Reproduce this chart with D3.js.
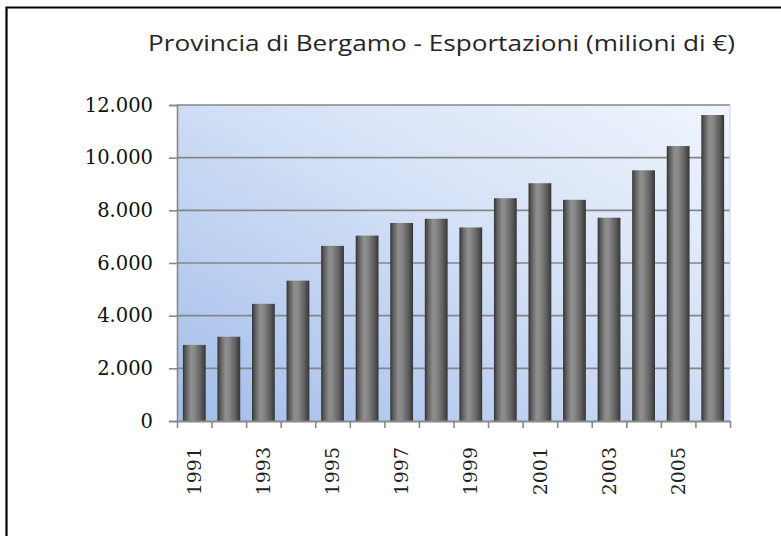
<!DOCTYPE html>
<html>
<head>
<meta charset="utf-8">
<script src="https://cdn.jsdelivr.net/npm/d3@7"></script>
<style>
  body { margin: 0; background: #fff; }
  svg { display: block; }
</style>
</head>
<body>
<div id="chart"></div>
<script>
// esportazioni provincia di Bergamo, milioni di euro
const years = ["1991","1992","1993","1994","1995","1996","1997","1998","1999","2000","2001","2002","2003","2004","2005","2006"];
const exportValues = [2890, 3200, 4450, 5330, 6650, 7040, 7520, 7680, 7350, 8460, 9030, 8400, 7720, 9520, 10440, 11620];
const yTicks = [0, 2000, 4000, 6000, 8000, 10000, 12000];
const xLabels = ["1991","1993","1995","1997","1999","2001","2003","2005"];
const title = "Provincia di Bergamo - Esportazioni (milioni di €)";

const width = 781, height = 536;
const plot = { left: 177, right: 730, top: 105, bottom: 421 };

const it = d3.formatLocale({ decimal: ",", thousands: ".", grouping: [3], currency: ["", "€"] });
const fmt = it.format(",d");

const svg = d3.select("#chart").append("svg")
  .attr("width", width)
  .attr("height", height);

const defs = svg.append("defs");
const bg = defs.append("linearGradient")
  .attr("id", "bg").attr("x1", 0).attr("y1", 1).attr("x2", 1).attr("y2", 0);
bg.append("stop").attr("offset", 0).attr("stop-color", "#a2bdea");
bg.append("stop").attr("offset", 0.55).attr("stop-color", "#d3e0f6");
bg.append("stop").attr("offset", 1).attr("stop-color", "#f1f5fd");

const barGrad = defs.append("linearGradient")
  .attr("id", "bar").attr("x1", 0).attr("y1", 0).attr("x2", 1).attr("y2", 0);
[[0, "#333333"], [0.12, "#5a5a5a"], [0.35, "#8e8e8e"], [0.5, "#888888"], [0.78, "#606060"], [1, "#363636"]]
  .forEach(s => barGrad.append("stop").attr("offset", s[0]).attr("stop-color", s[1]));

// outer frame (only top and left are visible)
svg.append("path")
  .attr("d", `M6.5,${height} V7.5 H${width}`)
  .attr("fill", "none").attr("stroke", "#000").attr("stroke-width", 2.2);

const x = d3.scaleBand()
  .domain(years)
  .range([plot.left, plot.right])
  .paddingInner(0.34)
  .paddingOuter(0.17);

const y = d3.scaleLinear()
  .domain([0, 12000])
  .range([plot.bottom, plot.top]);

svg.append("rect")
  .attr("x", plot.left).attr("y", plot.top)
  .attr("width", plot.right - plot.left).attr("height", plot.bottom - plot.top)
  .attr("fill", "url(#bg)");

// gridlines
svg.append("g")
  .selectAll("line")
  .data(yTicks.filter(d => d > 0))
  .join("line")
  .attr("x1", plot.left).attr("x2", plot.right)
  .attr("y1", d => y(d)).attr("y2", d => y(d))
  .attr("stroke", "#868686").attr("stroke-width", 1.6);

// right edge of plot
svg.append("line")
  .attr("x1", plot.right).attr("x2", plot.right)
  .attr("y1", plot.top).attr("y2", plot.bottom)
  .attr("stroke", "#c9d6ee").attr("stroke-width", 1);

svg.append("g")
  .selectAll("rect")
  .data(years.map((yr, i) => ({ yr, v: exportValues[i] })))
  .join("rect")
  .attr("x", d => x(d.yr))
  .attr("y", d => y(d.v))
  .attr("width", x.bandwidth())
  .attr("height", d => y(0) - y(d.v))
  .attr("fill", "url(#bar)");

// y axis
const yAxis = svg.append("g")
  .attr("transform", `translate(${plot.left},0)`)
  .call(d3.axisLeft(y).tickValues(yTicks).tickFormat(fmt).tickSize(8).tickPadding(16));
yAxis.select(".domain").attr("stroke", "#888").attr("stroke-width", 1.6);
yAxis.selectAll(".tick line").attr("stroke", "#888").attr("stroke-width", 1.6);
yAxis.selectAll("text")
  .attr("font-family", "DejaVu Serif")
  .attr("font-size", 19.5)
  .attr("fill", "#111");

// x axis: ticks on category boundaries
const xb = d3.scaleLinear().domain([0, years.length]).range([plot.left, plot.right]);
const xTickAxis = svg.append("g")
  .attr("transform", `translate(0,${plot.bottom})`)
  .call(d3.axisBottom(xb).tickValues(d3.range(years.length + 1)).tickFormat("").tickSize(7).tickSizeOuter(0));
xTickAxis.select(".domain").attr("stroke", "#888").attr("stroke-width", 1.8);
xTickAxis.selectAll(".tick line").attr("stroke", "#888").attr("stroke-width", 1.6);

// x labels, rotated
const xLabelAxis = svg.append("g")
  .attr("transform", `translate(0,${plot.bottom})`)
  .call(d3.axisBottom(x).tickValues(xLabels).tickSize(0));
xLabelAxis.select(".domain").remove();
xLabelAxis.selectAll("text")
  .attr("font-family", "DejaVu Serif")
  .attr("font-size", 19)
  .attr("fill", "#222")
  .attr("transform", "rotate(-90)")
  .attr("text-anchor", "end")
  .attr("dy", "0.35em")
  .attr("x", -26)
  .attr("y", 0);

svg.append("text")
  .attr("x", 441.5)
  .attr("y", 51)
  .attr("text-anchor", "middle")
  .attr("font-family", "Open Sans")
  .attr("font-size", 22.5)
  .attr("fill", "#262626")
  .attr("textLength", 587)
  .attr("lengthAdjust", "spacingAndGlyphs")
  .text(title);
</script>
</body>
</html>
